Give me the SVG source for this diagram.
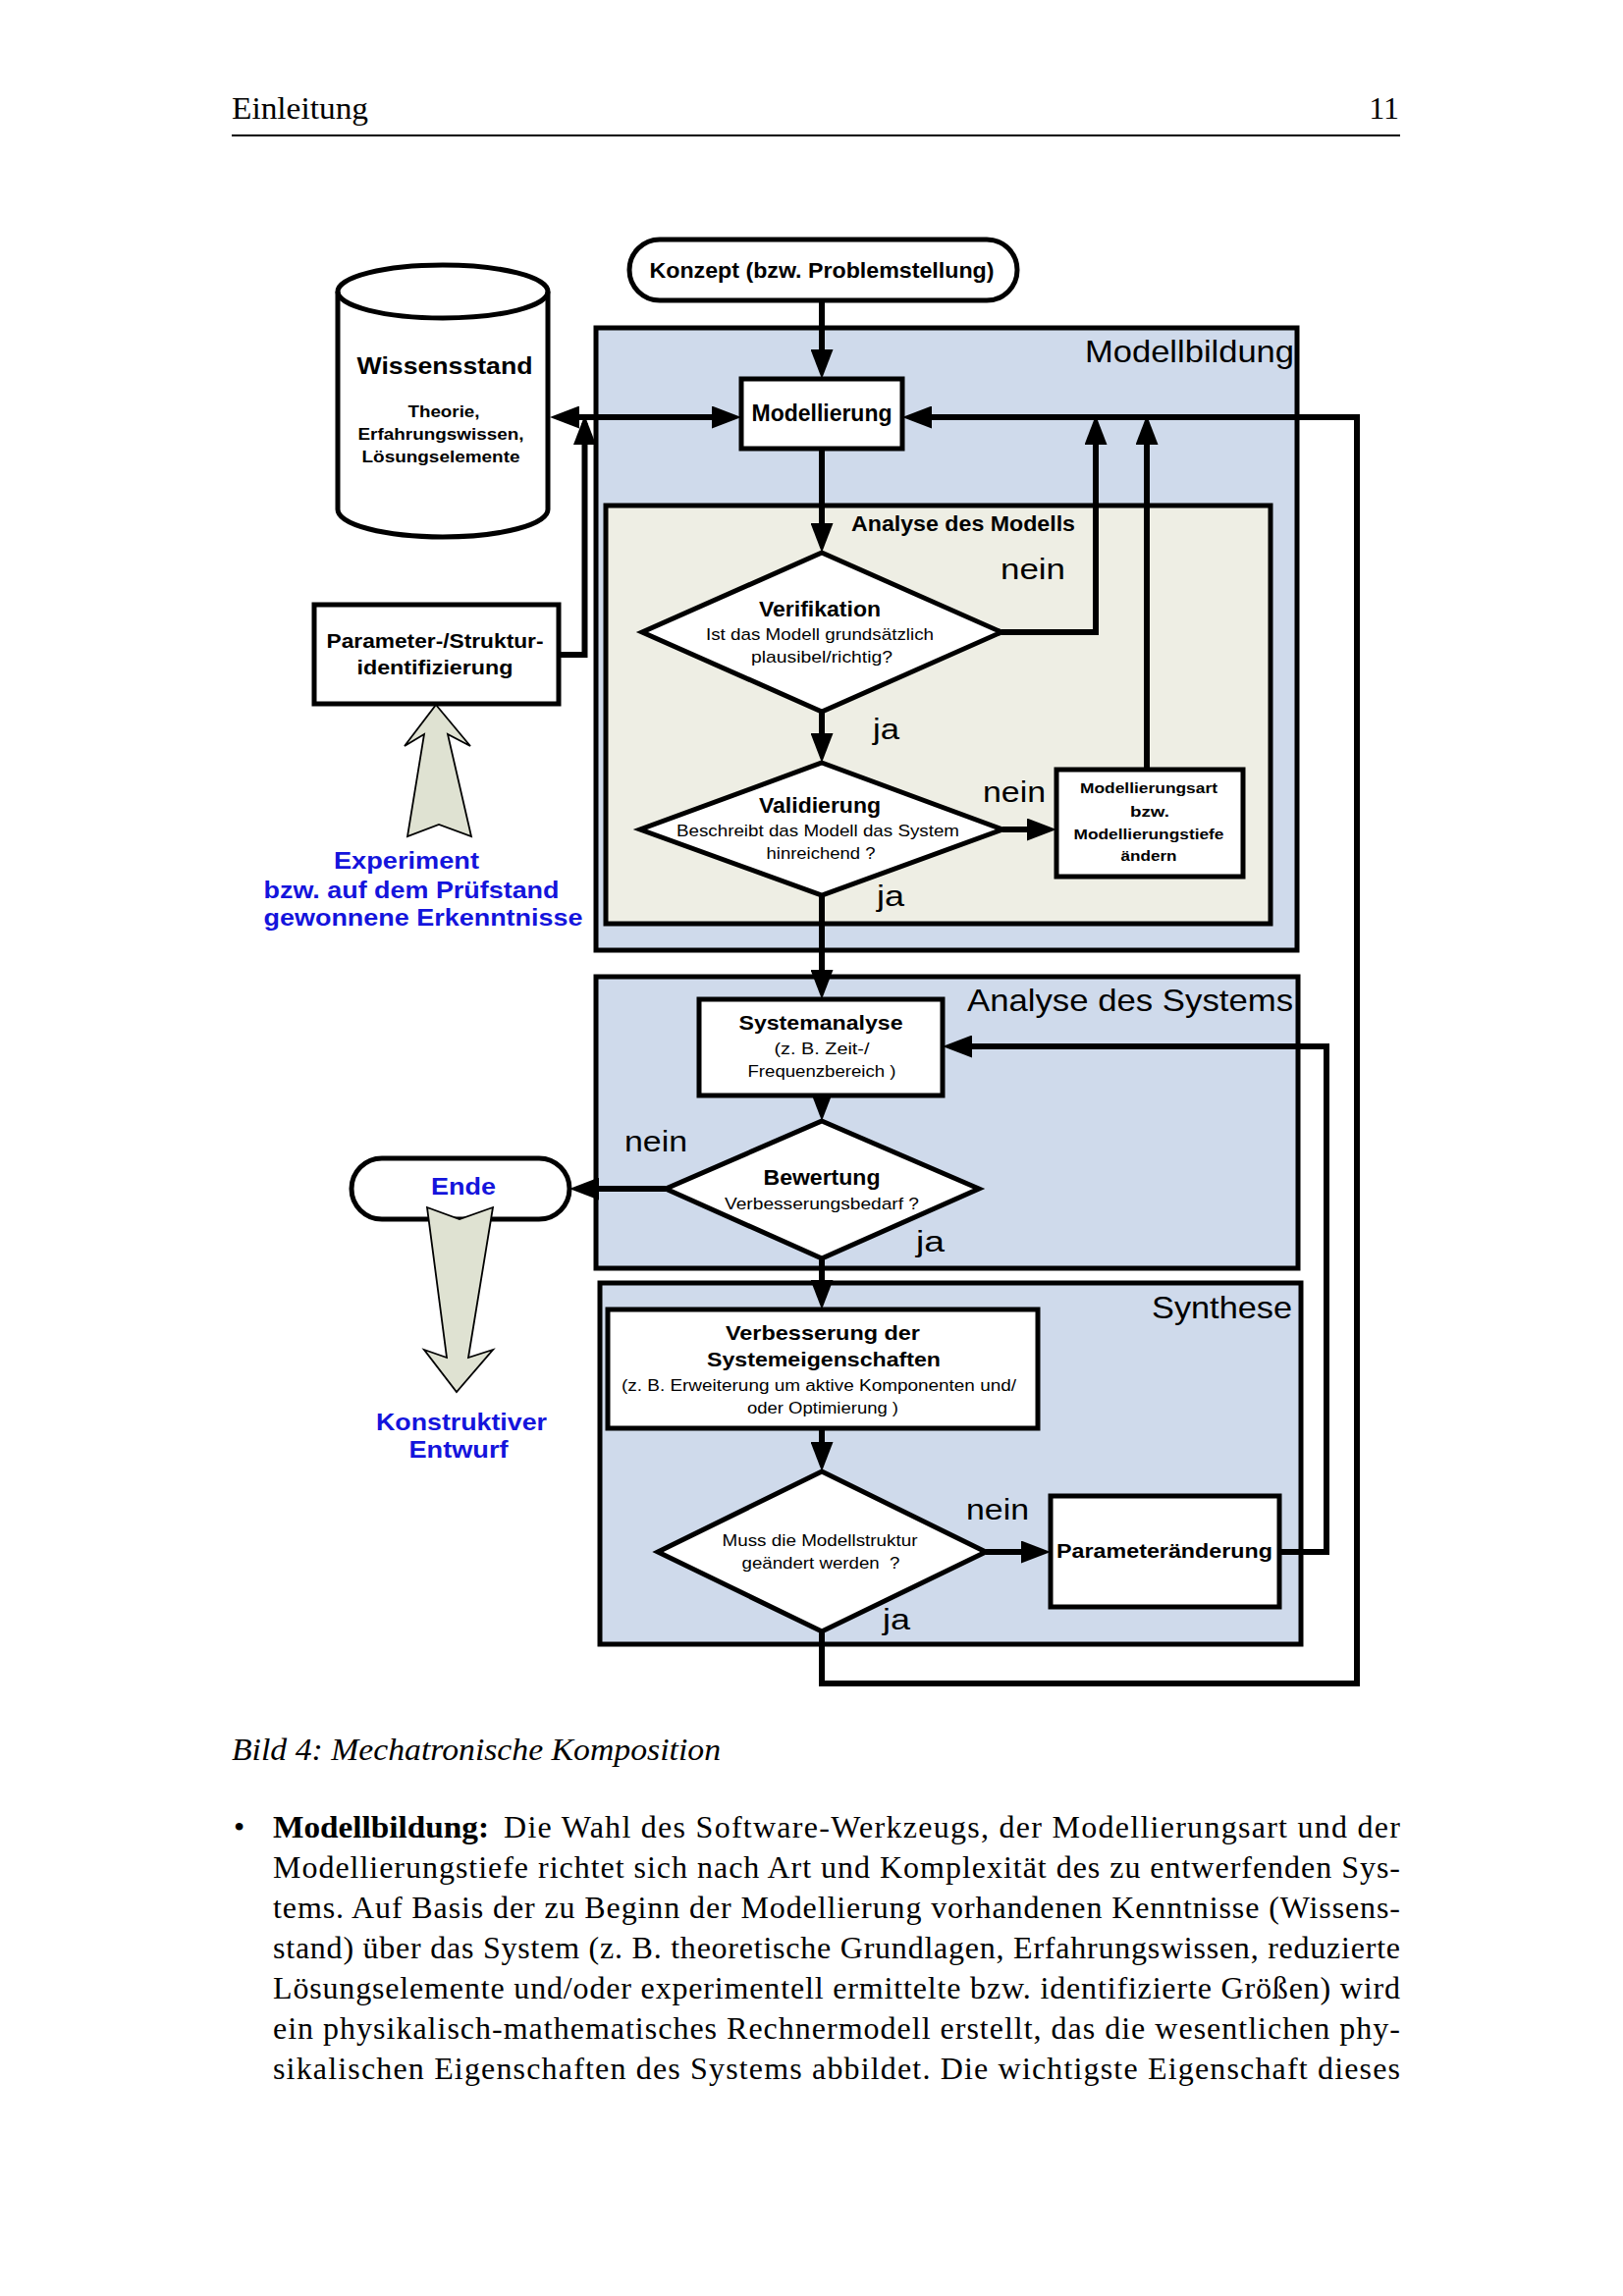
<svg xmlns="http://www.w3.org/2000/svg" width="1653" height="2339" viewBox="0 0 1653 2339">
<defs>
<style>
.sec{stroke:#000;stroke-width:5}
.blue{fill:#cfdaeb}
.beige{fill:#eeeee4}
.node{fill:#fff;stroke:#000;stroke-width:5}
.con{fill:none;stroke:#000;stroke-width:6;stroke-linejoin:miter}
.blk{fill:#dfe2d2;stroke:#000;stroke-width:1.8;stroke-linejoin:miter}
text{font-family:"Liberation Sans",Arial,sans-serif;fill:#000}
.b{font-weight:bold}
.c{text-anchor:middle}
.e{text-anchor:end}
.lbl{font-size:32px}
.yn{font-size:30px}
.h{font-size:22px;font-weight:bold}
.s{font-size:17px}
.bl{fill:#1414dc;font-weight:bold}
.serif{font-family:"Liberation Serif","Times New Roman",serif;font-size:32px}
</style>
<marker id="ah" markerUnits="userSpaceOnUse" markerWidth="30" markerHeight="23" viewBox="0 0 30 23" refX="22" refY="11.5" orient="auto-start-reverse">
<path d="M0,0 L30,11.5 L0,23 Z" fill="#000"/>
</marker>
</defs>
<rect width="1653" height="2339" fill="#fff"/>

<g id="header">
<text class="serif" x="236" y="121" textLength="139" lengthAdjust="spacingAndGlyphs">Einleitung</text>
<text class="serif e" x="1425" y="121">11</text>
<path d="M236,138 H1426" stroke="#000" stroke-width="2"/>
</g>

<g id="sections">
<g id="modellbildung">
<rect class="sec blue" x="607" y="334" width="714" height="634"/>
<text class="lbl e" x="1318" y="369" textLength="213" lengthAdjust="spacingAndGlyphs">Modellbildung</text>
</g>
<g id="analyse-modell">
<rect class="sec beige" x="617" y="515" width="677" height="426"/>
<text class="h" x="867" y="541" textLength="228" lengthAdjust="spacingAndGlyphs">Analyse des Modells</text>
</g>
<g id="analyse-system">
<rect class="sec blue" x="607" y="995" width="715" height="297"/>
<text class="lbl e" x="1317" y="1030" textLength="332" lengthAdjust="spacingAndGlyphs">Analyse des Systems</text>
</g>
<g id="synthese">
<rect class="sec blue" x="611" y="1307" width="714" height="368"/>
<text class="lbl e" x="1316" y="1343" textLength="143" lengthAdjust="spacingAndGlyphs">Synthese</text>
</g>
</g>

<g id="connectors">
<path class="con" d="M837,306 V378" marker-end="url(#ah)"/>
<path class="con" d="M568,425 H747" marker-start="url(#ah)" marker-end="url(#ah)"/>
<path class="con" d="M569,667 H595.5 V431" marker-end="url(#ah)"/>
<path class="con" d="M837,457 V555" marker-end="url(#ah)"/>
<path class="con" d="M1020,644 H1116 V431" marker-end="url(#ah)"/>
<path class="con" d="M837,725 V769" marker-end="url(#ah)"/>
<path class="con" d="M1021,845 H1068" marker-end="url(#ah)"/>
<path class="con" d="M1168,784 V431" marker-end="url(#ah)"/>
<path class="con" d="M837,912 V1010" marker-end="url(#ah)"/>
<path class="con" d="M837,1116 V1134" marker-end="url(#ah)"/>
<path class="con" d="M678,1211 H588" marker-end="url(#ah)"/>
<path class="con" d="M837,1282 V1326" marker-end="url(#ah)"/>
<path class="con" d="M837,1455 V1491" marker-end="url(#ah)"/>
<path class="con" d="M1004,1581 H1062" marker-end="url(#ah)"/>
<path class="con" d="M1303,1581 H1351 V1066 H968" marker-end="url(#ah)"/>
<path class="con" d="M837,1662 V1715 H1382 V425 H927" marker-end="url(#ah)"/>
</g>

<g id="labels">
<text class="yn" x="1019" y="590" textLength="66" lengthAdjust="spacingAndGlyphs">nein</text>
<text class="yn" x="889" y="753" textLength="27" lengthAdjust="spacingAndGlyphs">ja</text>
<text class="yn" x="1001" y="817" textLength="64" lengthAdjust="spacingAndGlyphs">nein</text>
<text class="yn" x="893" y="923" textLength="28" lengthAdjust="spacingAndGlyphs">ja</text>
<text class="yn" x="636" y="1173" textLength="64" lengthAdjust="spacingAndGlyphs">nein</text>
<text class="yn" x="933" y="1275" textLength="29" lengthAdjust="spacingAndGlyphs">ja</text>
<text class="yn" x="984" y="1548" textLength="64" lengthAdjust="spacingAndGlyphs">nein</text>
<text class="yn" x="899" y="1660" textLength="28" lengthAdjust="spacingAndGlyphs">ja</text>
</g>

<g id="konzept">
<rect class="node" x="641" y="244" width="395" height="62" rx="31"/>
<text class="b c" x="837" y="283" font-size="22" textLength="351" lengthAdjust="spacingAndGlyphs">Konzept (bzw. Problemstellung)</text>
</g>

<g id="wissensstand">
<path class="node" d="M344,297 A107,27 0 0 1 558,297 L558,519 A107,28 0 0 1 344,519 Z"/>
<path d="M344,297 A107,27 0 0 0 558,297" fill="none" stroke="#000" stroke-width="5"/>
<text class="b c" x="453" y="381" font-size="24" textLength="179" lengthAdjust="spacingAndGlyphs">Wissensstand</text>
<text class="b c" x="452" y="425" font-size="16" textLength="73" lengthAdjust="spacingAndGlyphs">Theorie,</text>
<text class="b c" x="449" y="448" font-size="16" textLength="169" lengthAdjust="spacingAndGlyphs">Erfahrungswissen,</text>
<text class="b c" x="449" y="471" font-size="16" textLength="161" lengthAdjust="spacingAndGlyphs">Lösungselemente</text>
</g>

<g id="modellierung">
<rect class="node" x="755" y="386" width="164" height="71"/>
<text class="b c" x="837" y="429" font-size="23" textLength="143" lengthAdjust="spacingAndGlyphs">Modellierung</text>
</g>

<g id="parameter-identifizierung">
<rect class="node" x="320" y="616" width="249" height="101"/>
<text class="b c" x="443" y="660" font-size="21" textLength="221" lengthAdjust="spacingAndGlyphs">Parameter-/Struktur-</text>
<text class="b c" x="443" y="687" font-size="21" textLength="159" lengthAdjust="spacingAndGlyphs">identifizierung</text>
</g>

<g id="experiment">
<polygon class="blk" points="444,718 479,760 456,748 480,852 447,840 415,852 432,748 412,760"/>
<text class="bl c" x="414" y="885" font-size="24" textLength="148" lengthAdjust="spacingAndGlyphs">Experiment</text>
<text class="bl c" x="419" y="915" font-size="24" textLength="301" lengthAdjust="spacingAndGlyphs">bzw. auf dem Prüfstand</text>
<text class="bl c" x="431" y="943" font-size="24" textLength="325" lengthAdjust="spacingAndGlyphs">gewonnene Erkenntnisse</text>
</g>

<g id="verifikation">
<polygon class="node" points="837,563 1020,644 837,725 654,644"/>
<text class="h c" x="835" y="628" textLength="124" lengthAdjust="spacingAndGlyphs">Verifikation</text>
<text class="s c" x="835" y="652" textLength="232" lengthAdjust="spacingAndGlyphs">Ist das Modell grundsätzlich</text>
<text class="s c" x="837" y="675" textLength="144" lengthAdjust="spacingAndGlyphs">plausibel/richtig?</text>
</g>

<g id="validierung">
<polygon class="node" points="837,777 1021,845 837,912 652,845"/>
<text class="h c" x="835" y="828" textLength="124" lengthAdjust="spacingAndGlyphs">Validierung</text>
<text class="s c" x="833" y="852" textLength="288" lengthAdjust="spacingAndGlyphs">Beschreibt das Modell das System</text>
<text class="s c" x="836" y="875" textLength="111" lengthAdjust="spacingAndGlyphs">hinreichend ?</text>
</g>

<g id="modellierungsart">
<rect class="node" x="1076" y="784" width="190" height="109"/>
<text class="b c" x="1170" y="808" font-size="15" textLength="140" lengthAdjust="spacingAndGlyphs">Modellierungsart</text>
<text class="b c" x="1171" y="832" font-size="15" textLength="40" lengthAdjust="spacingAndGlyphs">bzw.</text>
<text class="b c" x="1170" y="855" font-size="15" textLength="153" lengthAdjust="spacingAndGlyphs">Modellierungstiefe</text>
<text class="b c" x="1170" y="877" font-size="15" textLength="57" lengthAdjust="spacingAndGlyphs">ändern</text>
</g>

<g id="systemanalyse">
<rect class="node" x="712" y="1018" width="248" height="98"/>
<text class="b c" x="836" y="1049" font-size="21" textLength="167" lengthAdjust="spacingAndGlyphs">Systemanalyse</text>
<text class="s c" x="837" y="1074" textLength="97" lengthAdjust="spacingAndGlyphs">(z. B. Zeit-/</text>
<text class="s c" x="837" y="1097" textLength="151" lengthAdjust="spacingAndGlyphs">Frequenzbereich )</text>
</g>

<g id="bewertung">
<polygon class="node" points="837,1142 997,1211 837,1282 678,1211"/>
<text class="h c" x="837" y="1207" textLength="119" lengthAdjust="spacingAndGlyphs">Bewertung</text>
<text class="s c" x="837" y="1232" textLength="198" lengthAdjust="spacingAndGlyphs">Verbesserungsbedarf ?</text>
</g>

<g id="ende">
<rect class="node" x="358" y="1180" width="222" height="62" rx="31"/>
<text class="bl c" x="472" y="1217" font-size="23" textLength="66" lengthAdjust="spacingAndGlyphs">Ende</text>
</g>

<g id="konstruktiver-entwurf">
<polygon class="blk" points="435,1230 468,1242 502,1230 477,1383 502,1375 465,1418 432,1375 455,1383"/>
<text class="bl c" x="470" y="1457" font-size="24" textLength="174" lengthAdjust="spacingAndGlyphs">Konstruktiver</text>
<text class="bl c" x="467" y="1485" font-size="24" textLength="101" lengthAdjust="spacingAndGlyphs">Entwurf</text>
</g>

<g id="verbesserung">
<rect class="node" x="619" y="1334" width="438" height="121"/>
<text class="b c" x="838" y="1365" font-size="21" textLength="198" lengthAdjust="spacingAndGlyphs">Verbesserung der</text>
<text class="b c" x="839" y="1392" font-size="21" textLength="238" lengthAdjust="spacingAndGlyphs">Systemeigenschaften</text>
<text class="c" x="834" y="1417" font-size="16" textLength="402" lengthAdjust="spacingAndGlyphs">(z. B. Erweiterung um aktive Komponenten und/</text>
<text class="c" x="838" y="1440" font-size="16" textLength="154" lengthAdjust="spacingAndGlyphs">oder Optimierung )</text>
</g>

<g id="modellstruktur">
<polygon class="node" points="837,1499 1004,1581 837,1662 670,1581"/>
<text class="s c" x="835" y="1575" textLength="199" lengthAdjust="spacingAndGlyphs">Muss die Modellstruktur</text>
<text class="s c" x="836" y="1598" textLength="161" lengthAdjust="spacingAndGlyphs">geändert werden&#160; ?</text>
</g>

<g id="parameteraenderung">
<rect class="node" x="1070" y="1524" width="233" height="113"/>
<text class="b c" x="1186" y="1587" font-size="21" textLength="220" lengthAdjust="spacingAndGlyphs">Parameteränderung</text>
</g>

<g id="caption">
<text class="serif" x="236" y="1793" font-style="italic" textLength="498" lengthAdjust="spacingAndGlyphs">Bild 4: Mechatronische Komposition</text>
</g>

<g id="paragraph">
<text class="serif" x="238" y="1872">•</text>
<text class="serif" x="278" y="1872" font-weight="bold" textLength="220" lengthAdjust="spacingAndGlyphs">Modellbildung:</text>
<text class="serif" x="513" y="1872" textLength="913" lengthAdjust="spacing">Die Wahl des Software-Werkzeugs, der Modellierungsart und der</text>
<text class="serif" x="278" y="1913" textLength="1148" lengthAdjust="spacing">Modellierungstiefe richtet sich nach Art und Komplexität des zu entwerfenden Sys-</text>
<text class="serif" x="278" y="1954" textLength="1148" lengthAdjust="spacing">tems. Auf Basis der zu Beginn der Modellierung vorhandenen Kenntnisse (Wissens-</text>
<text class="serif" x="278" y="1995" textLength="1148" lengthAdjust="spacing">stand) über das System (z. B. theoretische Grundlagen, Erfahrungswissen, reduzierte</text>
<text class="serif" x="278" y="2036" textLength="1148" lengthAdjust="spacing">Lösungselemente und/oder experimentell ermittelte bzw. identifizierte Größen) wird</text>
<text class="serif" x="278" y="2077" textLength="1148" lengthAdjust="spacing">ein physikalisch-mathematisches Rechnermodell erstellt, das die wesentlichen phy-</text>
<text class="serif" x="278" y="2118" textLength="1148" lengthAdjust="spacing">sikalischen Eigenschaften des Systems abbildet. Die wichtigste Eigenschaft dieses</text>
</g>
</svg>
